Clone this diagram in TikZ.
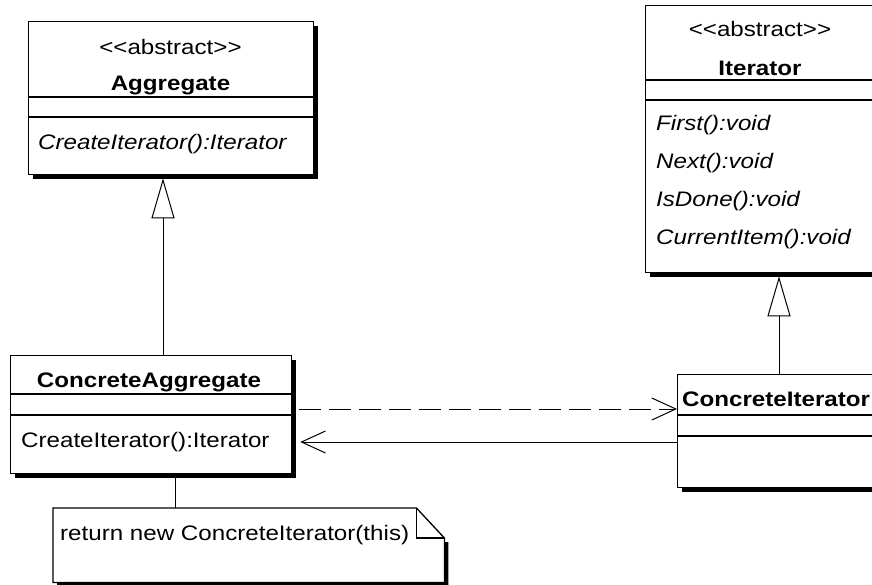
\documentclass[tikz,border=0pt]{standalone}
\usepackage{fontspec}
\newfontfamily\umlfont{Liberation Sans}[FakeStretch=1.15]
\usetikzlibrary{arrows.meta,shadows,calc}
\tikzset{
  classbox/.style={draw=black, line width=1.3pt, fill=white, inner sep=0pt, anchor=north west,
    drop shadow={shadow xshift=4pt, shadow yshift=-4pt, fill=black, opacity=1}},
  sep/.style={draw=black, line width=1.3pt},
  txt/.style={inner sep=0pt, font=\umlfont\fontsize{21}{25}\selectfont},
  inherit/.style={draw=black, line width=1pt, -{Triangle[open, length=40pt, width=23pt, fill=white]}, shorten >=3pt},
  dep/.style={draw=black, line width=1pt, dash pattern=on 22pt off 8pt, -{Straight Barb[length=24pt, width=22pt]}, shorten <=7pt},
  assoc/.style={draw=black, line width=1pt, -{Straight Barb[length=24pt, width=22pt]}, shorten >=8pt},
  notelink/.style={draw=black, line width=1pt}
}
\newcommand{\stereo}{<\kern0pt<abstract>\kern0pt>}
\begin{document}
\begin{tikzpicture}[x=1pt,y=-1pt]
\useasboundingbox (0,0) rectangle (872,585);
\fill[white] (0,0) rectangle (872,585);

% Aggregate
\node[classbox, minimum width=285pt, minimum height=153pt] (agg) at (28,21) {};
\draw[sep] (agg.west |- 0,97) -- (agg.east |- 0,97);
\draw[sep] (agg.west |- 0,117) -- (agg.east |- 0,117);
\node[txt, anchor=base] (aggst) at (170.5,55) {\stereo};
\node[txt, anchor=base, font=\umlfont\fontsize{21}{25}\selectfont\bfseries] (aggnm) at (170.5,91) {Aggregate};
\node[txt, anchor=base west, font=\umlfont\fontsize{21}{25}\selectfont\itshape] (aggm) at (38,150) {CreateIterator():Iterator};

% Iterator
\node[classbox, minimum width=230pt, minimum height=267pt] (it) at (645,5) {};
\draw[sep] (it.west |- 0,80) -- (it.east |- 0,80);
\draw[sep] (it.west |- 0,100) -- (it.east |- 0,100);
\node[txt, anchor=base] (itst) at (760,37) {\stereo};
\node[txt, anchor=base, font=\umlfont\fontsize{21}{25}\selectfont\bfseries] (itnm) at (760,76) {Iterator};
\node[txt, anchor=base west, font=\umlfont\fontsize{21}{25}\selectfont\itshape] (itm1) at (656,131) {First():void};
\node[txt, anchor=base west, font=\umlfont\fontsize{21}{25}\selectfont\itshape] (itm2) at (656,169) {Next():void};
\node[txt, anchor=base west, font=\umlfont\fontsize{21}{25}\selectfont\itshape] (itm3) at (656,207) {IsDone():void};
\node[txt, anchor=base west, font=\umlfont\fontsize{21}{25}\selectfont\itshape] (itm4) at (656,245) {CurrentItem():void};

% ConcreteAggregate
\node[classbox, minimum width=281pt, minimum height=118pt] (ca) at (10,355) {};
\draw[sep] (ca.west |- 0,394) -- (ca.east |- 0,394);
\draw[sep] (ca.west |- 0,415) -- (ca.east |- 0,415);
\node[txt, anchor=base, font=\umlfont\fontsize{21}{25}\selectfont\bfseries] (canm) at (149,387) {ConcreteAggregate};
\node[txt, anchor=base west] (cam) at (21,447) {CreateIterator():Iterator};

% ConcreteIterator
\node[classbox, minimum width=200pt, minimum height=113pt] (ci) at (677,374) {};
\draw[sep] (ci.west |- 0,415) -- (ci.east |- 0,415);
\draw[sep] (ci.west |- 0,436) -- (ci.east |- 0,436);
\node[txt, anchor=base west, font=\umlfont\fontsize{21}{25}\selectfont\bfseries] (cinm) at (682,406) {ConcreteIterator};

% Note
\node[inner sep=0pt, anchor=north west, minimum width=391pt, minimum height=74pt] (note) at (53,508) {};
\fill[black] ($(note.north east)+(0,34)$) -- ($(note.north east)+(4,34)$) -- ($(note.south east)+(4,4)$)
  -- ($(note.south west)+(4,4)$) -- ($(note.south west)+(4,0)$) -- (note.south east) -- cycle;
\draw[line width=1.3pt, fill=white] (note.north west) -- ($(note.north east)+(-28,0)$) -- ($(note.north east)+(0,30)$)
  -- (note.south east) -- (note.south west) -- cycle;
\draw[line width=1.3pt] ($(note.north east)+(-28,0)$) -- ($(note.north east)+(-28,30)$) -- ($(note.north east)+(0,30)$);
\node[txt, anchor=base west] (notetxt) at (60,540) {return new ConcreteIterator(this)};

% Connectors
\coordinate (gx) at (163,0);
\coordinate (ix) at (779,0);
\coordinate (nx) at (175,0);
\coordinate (dy) at (0,409);
\coordinate (sy) at (0,442);
\draw[inherit] (ca.north -| gx) -- (agg.south -| gx);
\draw[inherit] (ci.north -| ix) -- (it.south -| ix);
\draw[dep] (ca.east |- dy) -- (ci.west |- dy);
\draw[assoc] (ci.west |- sy) -- (ca.east |- sy);
\draw[notelink] ([yshift=-4pt]ca.south -| nx) -- (note.north -| nx);
\end{tikzpicture}
\end{document}
